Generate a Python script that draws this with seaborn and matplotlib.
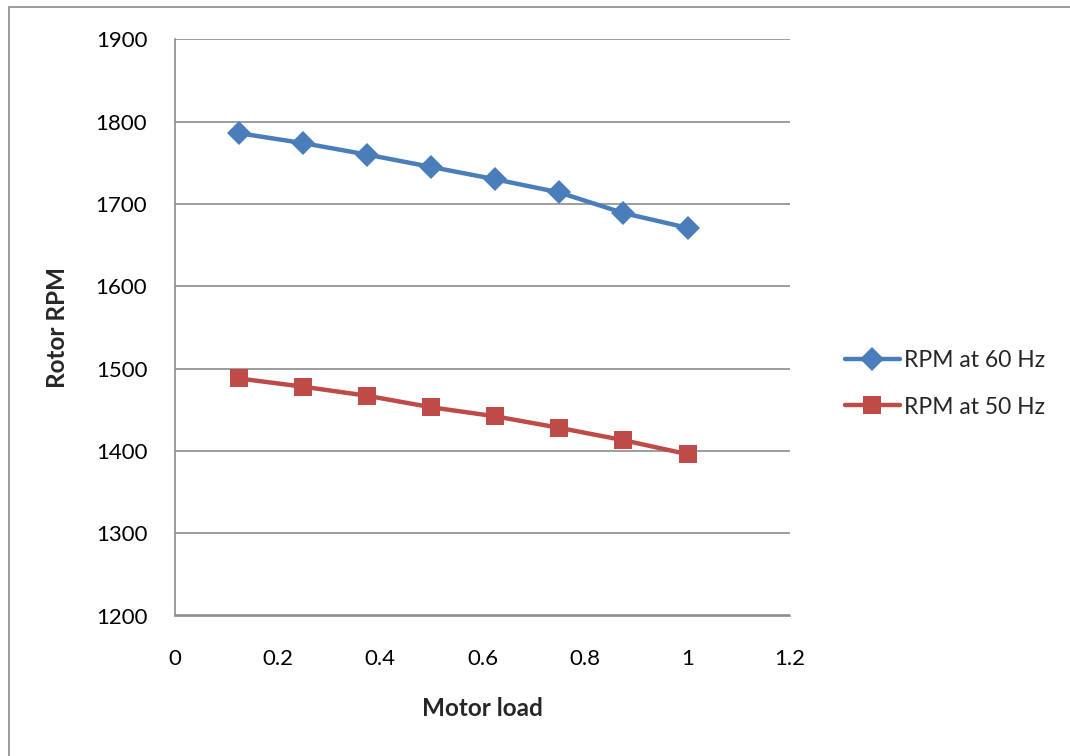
import matplotlib
matplotlib.use("Agg")
import matplotlib.pyplot as plt
import seaborn as sns
import pandas as pd
from matplotlib.patches import Rectangle

motor_load = [0.125, 0.25, 0.375, 0.5, 0.625, 0.75, 0.875, 1.0]
rpm_60 = [1786, 1774, 1760, 1745, 1730, 1714, 1689, 1671]
rpm_50 = [1488, 1478, 1467, 1453, 1442, 1428, 1413, 1396]
series_names = ["RPM at 60 Hz", "RPM at 50 Hz"]
x_ticks = [0, 0.2, 0.4, 0.6, 0.8, 1, 1.2]
x_ticklabels = ["0", "0.2", "0.4", "0.6", "0.8", "1", "1.2"]
y_ticks = [1200, 1300, 1400, 1500, 1600, 1700, 1800, 1900]

sns.set_theme(style="white")
plt.rcParams['font.family'] = ['Lato', 'DejaVu Sans']

fig = plt.figure(figsize=(10.70, 7.56), dpi=100)
W, H = 1070, 756
ax = fig.add_axes([175 / W, 1 - 615.5 / H, (790 - 175) / W, (615.5 - 39.4) / H])

fig.patches.append(Rectangle((9 / W, -0.05), 1.2, 1 - 7 / H + 0.05, transform=fig.transFigure,
                             fill=False, edgecolor="#8c8c8c", linewidth=1.2, zorder=0))

df60 = pd.DataFrame({"x": motor_load, "y": rpm_60})
df50 = pd.DataFrame({"x": motor_load, "y": rpm_50})
sns.lineplot(data=df60, x="x", y="y", ax=ax, color="#4A7EBB", marker="D", markersize=12,
             markeredgewidth=0, linewidth=3.2, label=series_names[0], zorder=3)
sns.lineplot(data=df50, x="x", y="y", ax=ax, color="#BE4B48", marker="s", markersize=13,
             markeredgewidth=0, linewidth=3.2, label=series_names[1], zorder=3)

ax.set_xlim(0, 1.2)
ax.set_ylim(1200, 1900)
ax.set_xticks(x_ticks)
ax.set_xticklabels(x_ticklabels)
ax.set_yticks(y_ticks)
ax.yaxis.grid(True, color="#8c8c8c", linewidth=1.2)
ax.xaxis.grid(False)
for s in ["top", "right"]:
    ax.spines[s].set_visible(False)
for s in ["left", "bottom"]:
    ax.spines[s].set_color("#8c8c8c")
    ax.spines[s].set_linewidth(1.2)
ax.tick_params(axis="x", length=0, pad=24, labelsize=16, colors="black")
ax.tick_params(axis="y", length=0, pad=20, labelsize=16, colors="black")

ax.set_xlabel("Motor load", fontsize=17.5, fontweight="bold", labelpad=20)
ax.set_ylabel("Rotor RPM", fontsize=17.5, fontweight="bold", labelpad=19)

leg = ax.legend(loc="center left", bbox_to_anchor=(1.089, 0.402), frameon=False,
                fontsize=16.5, handlelength=2.4, labelspacing=1.1, handletextpad=0.2,
                borderaxespad=0, borderpad=0)

fig.savefig("out.png", dpi=100)
